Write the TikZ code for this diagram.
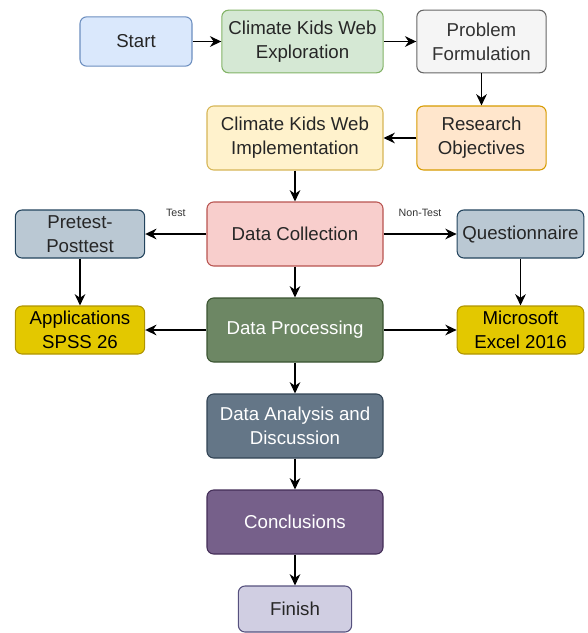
\documentclass[tikz,border=0pt]{standalone}
\usepackage{fontspec}
\setmainfont{Liberation Sans}
\usetikzlibrary{arrows.meta}
\definecolor{blueF}{HTML}{DAE8FC}\definecolor{blueD}{HTML}{6C8EBF}
\definecolor{greenF}{HTML}{D5E8D4}\definecolor{greenD}{HTML}{82B366}
\definecolor{greyF}{HTML}{F5F5F5}\definecolor{greyD}{HTML}{666666}
\definecolor{orangeF}{HTML}{FFE6CC}\definecolor{orangeD}{HTML}{D79B00}
\definecolor{yellowF}{HTML}{FFF2CC}\definecolor{yellowD}{HTML}{D6B656}
\definecolor{redF}{HTML}{F8CECC}\definecolor{redD}{HTML}{B85450}
\definecolor{steelF}{HTML}{BAC8D3}\definecolor{steelD}{HTML}{23445D}
\definecolor{goldF}{HTML}{E3C800}\definecolor{goldD}{HTML}{B09500}
\definecolor{oliveF}{HTML}{6D8764}\definecolor{oliveD}{HTML}{3A5431}
\definecolor{slateF}{HTML}{647687}\definecolor{slateD}{HTML}{314354}
\definecolor{plumF}{HTML}{76608A}\definecolor{plumD}{HTML}{432D57}
\definecolor{lilacF}{HTML}{D0CEE2}\definecolor{lilacD}{HTML}{56517E}
\tikzset{
  box/.style={draw, rounded corners=5pt, line width=0.8pt, align=center,
    inner sep=1pt, font=\fontsize{14}{18}\selectfont, text=black!85},
  mainbox/.style={box, minimum width=132pt, minimum height=48pt},
  sidebox/.style={box, minimum width=97pt, minimum height=36pt},
  darkbox/.style={mainbox, text=white},
  flow/.style={-{Stealth[length=8.5pt,width=8pt]}, line width=1.1pt},
  tag/.style={font=\fontsize{8}{9}\selectfont, text=black!80},
}
\begin{document}
\begin{tikzpicture}[x=0.75pt,y=-0.75pt]
  \useasboundingbox (0,0) rectangle (587,633);
  \draw
    (136,41.5) node[box, fill=blueF, draw=blueD, minimum width=84pt, minimum height=37pt] (start){Start}
    (302.5,41.5) node[box, fill=greenF, draw=greenD, minimum width=121pt, minimum height=47pt] (explore){Climate Kids Web\\Exploration}
    (481.5,41.5) node[box, fill=greyF, draw=greyD, text=black!80, minimum width=97pt, minimum height=47pt] (problem){Problem\\Formulation}
    (481.5,138) node[box, fill=orangeF, draw=orangeD, minimum width=97pt, minimum height=48pt] (objectives){Research\\Objectives}
    (295,138) node[mainbox, fill=yellowF, draw=yellowD] (implement){Climate Kids Web\\Implementation}
    (295,234) node[mainbox, fill=redF, draw=redD] (collect){Data Collection}
    (80,234) node[sidebox, fill=steelF, draw=steelD] (pretest){Pretest-\\Posttest}
    (520.5,234) node[sidebox, fill=steelF, draw=steelD, minimum width=95pt] (quest){Questionnaire}
    (80,330) node[sidebox, fill=goldF, draw=goldD, text=black] (spss){Applications\\SPSS 26}
    (295,330) node[darkbox, fill=oliveF, draw=oliveD] (process){Data Processing}
    (520.5,330) node[sidebox, fill=goldF, draw=goldD, text=black, minimum width=95pt] (excel){Microsoft\\Excel 2016}
    (295,426) node[darkbox, fill=slateF, draw=slateD] (analysis){Data Analysis and\\Discussion}
    (295,522) node[darkbox, fill=plumF, draw=plumD] (conclude){Conclusions}
    (295,609) node[box, fill=lilacF, draw=lilacD, minimum width=85pt, minimum height=34.5pt] (finish){Finish};
  \begin{scope}[flow]
    \draw (start) to (explore);
    \draw (explore) to (problem);
    \draw (problem) to (objectives);
    \draw (objectives) to (implement);
    \draw (implement) to (collect);
    \draw (collect) to node[tag, midway, above=9pt] (test){Test} (pretest);
    \draw (collect) to node[tag, midway, above=9pt] (nontest){Non-Test} (quest);
    \draw (pretest) to (spss);
    \draw (quest) to (excel);
    \draw (collect) to (process);
    \draw (process) to (spss);
    \draw (process) to (excel);
    \draw (process) to (analysis);
    \draw (analysis) to (conclude);
    \draw (conclude) to (finish);
  \end{scope}
\end{tikzpicture}
\end{document}
